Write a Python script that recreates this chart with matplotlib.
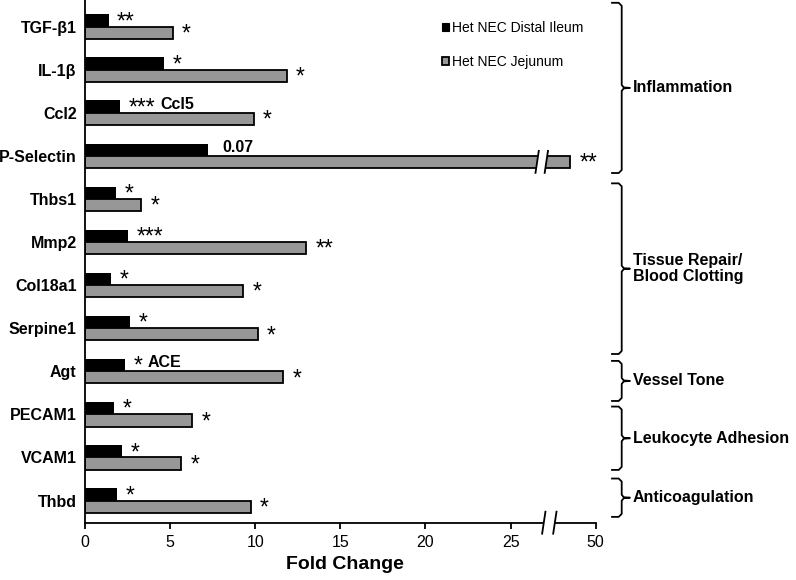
import matplotlib
matplotlib.use("Agg")
import matplotlib.pyplot as plt
from matplotlib.lines import Line2D
from matplotlib.patches import Patch, Polygon
import numpy as np

plt.rcParams['font.family'] = ['Liberation Sans', 'DejaVu Sans']

# data
genes = ["TGF-β1", "IL-1β", "Ccl2", "P-Selectin", "Thbs1", "Mmp2",
         "Col18a1", "Serpine1", "Agt", "PECAM1", "VCAM1", "Thbd"]
distal_ileum = [1.4, 4.65, 2.05, 7.25, 1.85, 2.55, 1.55, 2.65, 2.35, 1.7, 2.2, 1.9]
jejunum = [5.15, 11.85, 9.9, 47.0, 3.3, 13.0, 9.3, 10.15, 11.65, 6.3, 5.65, 9.75]
ileum_sig = ["**", "*", "***", "", "*", "***", "*", "*", "*", "*", "*", "*"]
ileum_note = ["", "", "Ccl5", "0.07", "", "", "", "", "ACE", "", "", ""]
jejunum_sig = ["*", "*", "*", "**", "*", "**", "*", "*", "*", "*", "*", "*"]
groups = ["Inflammation", "Tissue Repair/\nBlood Clotting", "Vessel Tone",
          "Leukocyte Adhesion", "Anticoagulation"]
x_ticks = [0, 5, 10, 15, 20, 25, 50]
series_names = ["Het NEC Distal Ileum", "Het NEC Jejunum"]

# layout
brace_span = [(-0.55, 3.40), (3.64, 7.60), (7.76, 8.69), (8.82, 10.29), (10.49, 11.38)]
GRAY = '#979797'
W, H = 796, 580


def to_axis(v):
    # broken axis: 0..27 linear, then 45..50 squeezed into 27.5..30
    v = np.asarray(v, float)
    return np.where(v <= 27, v, 27.5 + (v - 45) * 0.5)


fig = plt.figure(figsize=(W / 100, H / 100), dpi=100)
ax = fig.add_axes([85 / W, 57.3 / H, (595.7 - 85) / W, 522.7 / H])

y = np.arange(len(genes))
h = 0.283
ax.barh(y - h / 2, to_axis(distal_ileum), height=h, color='black')
ax.barh(y + h / 2, to_axis(jejunum), height=h, color=GRAY,
        edgecolor='black', linewidth=1.3)

ax.set_xlim(0, 30)
ax.set_ylim(11.515, -0.615)
for s in ['top', 'right']:
    ax.spines[s].set_visible(False)
for s in ['left', 'bottom']:
    ax.spines[s].set_linewidth(1.3)

ax.set_xticks(to_axis(x_ticks))
ax.set_xticklabels([str(t) for t in x_ticks])
ax.tick_params(axis='x', direction='out', length=4, width=1.3, labelsize=11.5, pad=5)
ax.set_yticks(y)
ax.set_yticklabels(genes, fontweight='bold', fontsize=11.5)
ax.tick_params(axis='y', length=0, pad=6)

ax.set_xlabel("Fold Change", fontsize=14, fontweight='bold', va='top')
ax.xaxis.set_label_coords(0.509, -0.0628)

# significance stars and notes
ib = to_axis(distal_ileum)
jb = to_axis(jejunum)
for i in range(len(genes)):
    if ileum_sig[i]:
        ax.annotate(ileum_sig[i], xy=(ib[i], y[i] - h / 2), xytext=(6, -5.6),
                    textcoords='offset points', va='baseline', ha='left', fontsize=16.5)
    if ileum_note[i]:
        dx = 5.8 + len(ileum_sig[i]) * 6.4 + 4.3
        ax.annotate(ileum_note[i], xy=(ib[i], y[i] - h / 2), xytext=(dx, -1.5),
                    textcoords='offset points', va='baseline', ha='left',
                    fontsize=11.5, fontweight='bold')
    if jejunum_sig[i]:
        ax.annotate(jejunum_sig[i], xy=(jb[i], y[i] + h / 2), xytext=(6.5, -5.6),
                    textcoords='offset points', va='baseline', ha='left', fontsize=16.5)

inv = fig.transFigure.inverted()


def px(xd, yd):
    return ax.transData.transform((xd, yd))


def add_break(xc, yc, half=11, slant=1.65):
    # two slanted strokes with a white gap, coordinates in pixels
    pts = []
    for x0 in xc:
        pts.append([(x0 - slant, yc - half), (x0 + slant, yc + half)])
    poly = [pts[0][0], pts[0][1], pts[1][1], pts[1][0]]
    fig.add_artist(Polygon(inv.transform(poly), closed=True, facecolor='white',
                           edgecolor='none', transform=fig.transFigure, zorder=5))
    for p in pts:
        q = inv.transform(p)
        fig.add_artist(Line2D(q[:, 0], q[:, 1], color='black', lw=1.3,
                              transform=fig.transFigure, zorder=6))


# break on P-Selectin jejunum bar
pi = genes.index("P-Selectin")
bx1 = px(26.56, pi + h / 2)
bx2 = px(27.1, pi + h / 2)
add_break([bx1[0], bx2[0]], bx1[1])
# break on x axis
a1 = px(26.95, 11.515)
a2 = px(27.6, 11.515)
add_break([a1[0], a2[0]], a1[1])

# group braces on the right
xl, xv, xt = 612, 621.7, 630
for name, (t, b) in zip(groups, brace_span):
    ty = px(0, t)[1]
    by = px(0, b)[1]
    my = (ty + by) / 2
    path = [(xl, ty), (xv - 3, ty), (xv, ty - 3), (xv, my + 3), (xv + 2, my + 0.5),
            (xt, my), (xv + 2, my - 0.5), (xv, my - 3), (xv, by + 3), (xv - 3, by), (xl, by)]
    q = inv.transform(path)
    fig.add_artist(Line2D(q[:, 0], q[:, 1], color='black', lw=1.3,
                          transform=fig.transFigure))
    tx, tyy = inv.transform((633, my))
    fig.text(tx, tyy, name, fontsize=11.5, fontweight='bold', ha='left', va='center',
             linespacing=1.1)

handles = [Patch(facecolor='black', edgecolor='black', linewidth=0.8),
           Patch(facecolor=GRAY, edgecolor='black', linewidth=1.3)]
ax.legend(handles, series_names, loc='upper left', bbox_to_anchor=(442 / W, 1 - 21 / H),
          bbox_transform=fig.transFigure, frameon=False, fontsize=10,
          handlelength=0.5, handleheight=0.5, handletextpad=0.25,
          labelspacing=1.45, borderpad=0, borderaxespad=0)

fig.savefig("out.png", dpi=100)
